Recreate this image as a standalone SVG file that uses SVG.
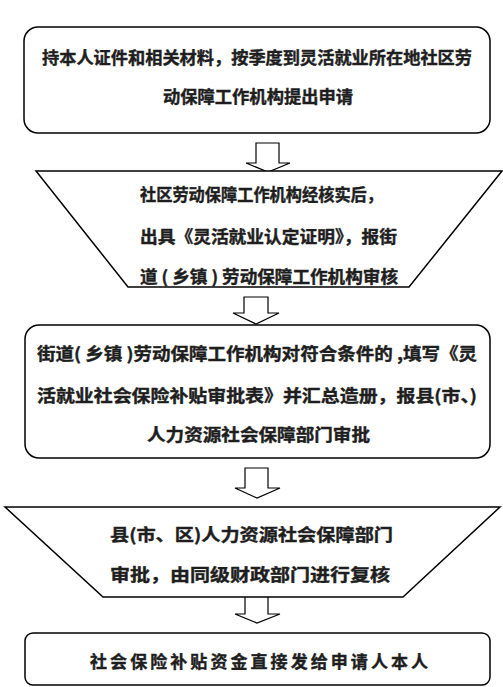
<svg xmlns="http://www.w3.org/2000/svg" width="503" height="687" viewBox="0 0 503 687">
<style>
.shape{fill:#ffffff;stroke:#000000;stroke-width:1.5}
.arrow{fill:#ffffff;stroke:#000000;stroke-width:1.2}
.t{font-family:"Noto Sans CJK SC","Noto Sans CJK TC",sans-serif;font-size:17px;font-weight:bold;fill:#1e1e1e;stroke:#1e1e1e;stroke-width:0.4;dominant-baseline:central}
</style>
<rect width="503" height="687" fill="#ffffff"/>
<g id="connectors">
<polygon class="arrow" points="256,143 279,143 279,163 290,163 268,172 246,163 256,163"/>
<polygon class="arrow" points="244,297 268,297 268,313 279,313 256,324 233,313 244,313"/>
<polygon class="arrow" points="245,468 268,468 268,488 280,488 257,498 235,488 245,488"/>
<polygon class="arrow" points="245,595 268,595 268,614 280,614 257,623 235,614 245,614"/>
</g>
<g id="node1">
<rect class="shape" x="24" y="27" width="466" height="106" rx="14"/>
<text class="t" x="42" y="56" textLength="430" lengthAdjust="spacingAndGlyphs">持本人证件和相关材料，按季度到灵活就业所在地社区劳</text>
<text class="t" x="163" y="95" textLength="190" lengthAdjust="spacingAndGlyphs">动保障工作机构提出申请</text>
</g>
<g id="node2">
<polygon class="shape" points="36,171 502,171 409,287 128,287"/>
<text class="t" x="140" y="193" textLength="243" lengthAdjust="spacingAndGlyphs">社区劳动保障工作机构经核实后，</text>
<text class="t" x="140" y="235" textLength="257" lengthAdjust="spacingAndGlyphs">出具《灵活就业认定证明》，报街</text>
<text class="t" x="140" y="275" textLength="258" lengthAdjust="spacingAndGlyphs">道 ( 乡镇 ) 劳动保障工作机构审核</text>
</g>
<g id="node3">
<rect class="shape" x="25" y="325" width="465" height="133" rx="14"/>
<text class="t" x="37" y="352" textLength="440" lengthAdjust="spacingAndGlyphs">街道( 乡镇 )劳动保障工作机构对符合条件的 ,填写《灵</text>
<text class="t" x="37" y="394" textLength="440" lengthAdjust="spacingAndGlyphs">活就业社会保险补贴审批表》并汇总造册，报县(市、)</text>
<text class="t" x="147" y="433" textLength="223" lengthAdjust="spacingAndGlyphs">人力资源社会保障部门审批</text>
</g>
<g id="node4">
<polygon class="shape" points="5,507 500,507 403,597 103,597"/>
<text class="t" x="110" y="533" textLength="283" lengthAdjust="spacingAndGlyphs">县(市、区)人力资源社会保障部门</text>
<text class="t" x="110" y="573" textLength="280" lengthAdjust="spacingAndGlyphs">审批，由同级财政部门进行复核</text>
</g>
<g id="node5">
<rect class="shape" x="25" y="633" width="465" height="52" rx="8"/>
<text class="t" x="90" y="660" textLength="338" lengthAdjust="spacing">社会保险补贴资金直接发给申请人本人</text>
</g>
</svg>
